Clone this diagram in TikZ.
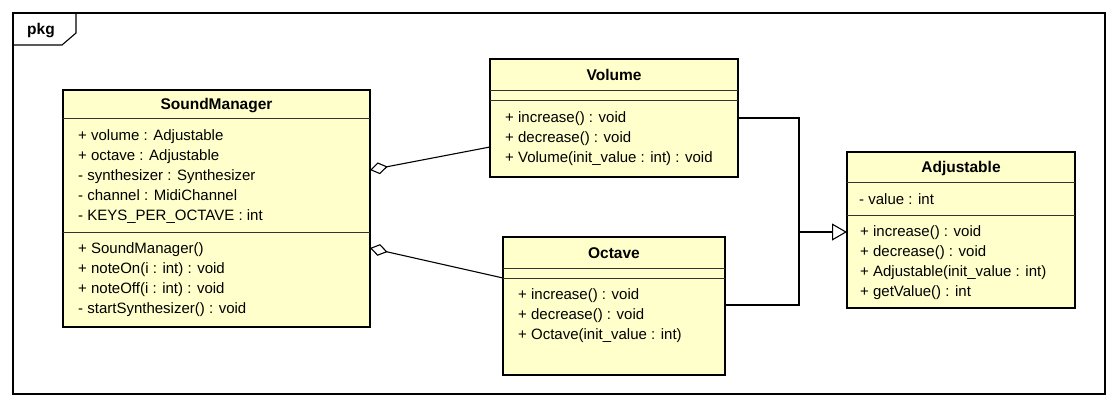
\documentclass[tikz,border=0pt]{standalone}
\usepackage{fontspec}
\setmainfont{Liberation Sans}
\usetikzlibrary{arrows.meta,calc}
\definecolor{clsfill}{HTML}{FFFFCC}
\begin{document}
\begin{tikzpicture}[x=1pt,y=-1pt,
  cls/.style={draw=black, line width=2.6pt, fill=clsfill, inner sep=0pt, outer sep=0pt, anchor=north west},
  sepline/.style={draw=black!80, line width=1pt},
  ttl/.style={font=\fontsize{15.5}{18}\selectfont\bfseries, anchor=base, inner sep=0pt},
  mem/.style={font=\fontsize{15}{20}\selectfont, anchor=base west, inner sep=0pt},
  conn/.style={draw=black, line width=1.1pt},
  agg/.style={conn, {Diamond[open,length=18pt,width=12pt,line width=1.1pt]}-},
  gen/.style={conn, -{Triangle[open,length=15pt,width=17pt,line width=1.1pt]}}]
\useasboundingbox (0,0) rectangle (1118,406);
% package frame
\node[draw=black, line width=1.1pt, minimum width=1092pt, minimum height=381pt, inner sep=0pt, outer sep=0pt, anchor=north west] (frame) at (13,13) {};
\draw[conn] ($(frame.north west)+(0,32)$) -- ++(49,0) -- ++(14,-12) -- ($(frame.north west)+(63,0)$);
\node[ttl] (pkgl) at (41,35) {pkg};
% class boxes
\node[cls, minimum width=307pt, minimum height=237pt] (sm) at (63,90) {};
\node[cls, minimum width=248pt, minimum height=118pt] (vol) at (490,59) {};
\node[cls, minimum width=222pt, minimum height=138pt] (oct) at (503,237) {};
\node[cls, minimum width=228pt, minimum height=156pt] (adj) at (847,152) {};
% separators
\draw[sepline] (63,119) -- (370,119);
\draw[sepline] (63,232) -- (370,232);
\draw[sepline] (490,91) -- (738,91);
\draw[sepline] (490,101) -- (738,101);
\draw[sepline] (503,268) -- (725,268);
\draw[sepline] (503,278) -- (725,278);
\draw[sepline] (847,183) -- (1075,183);
\draw[sepline] (847,215) -- (1075,215);
% titles
\node[ttl] (smT) at (216.5,110) {SoundManager};
\node[ttl] (volT) at (614,80.5) {Volume};
\node[ttl] (octT) at (614,258) {Octave};
\node[ttl] (adjT) at (961,173) {Adjustable};
% members
\foreach \t [count=\i from 0] in {+ volume : Adjustable, + octave : Adjustable, - synthesizer : Synthesizer, - channel : MidiChannel, - KEYS\_PER\_OCTAVE : int}
  \node[mem] (smA\i) at (78,{140.5+20*\i}) {\t};
\foreach \t [count=\i from 0] in {+ SoundManager(), + noteOn(i : int) : void, + noteOff(i : int) : void, - startSynthesizer() : void}
  \node[mem] (smM\i) at (78,{253.5+20*\i}) {\t};
\foreach \t [count=\i from 0] in {+ increase() : void, + decrease() : void, + Volume(init\_value : int) : void}
  \node[mem] (volM\i) at (505,{122.5+20*\i}) {\t};
\foreach \t [count=\i from 0] in {+ increase() : void, + decrease() : void, + Octave(init\_value : int)}
  \node[mem] (octM\i) at (518,{299.5+20*\i}) {\t};
\node[mem] (adjA0) at (859,204.5) {- value : int};
\foreach \t [count=\i from 0] in {+ increase() : void, + decrease() : void, + Adjustable(init\_value : int), + getValue() : int}
  \node[mem] (adjM\i) at (860,{236.5+20*\i}) {\t};
% connectors
\draw[agg] ($(sm.north east)+(0,80)$) -- ($(vol.north west)+(0,88)$);
\draw[agg] ($(sm.north east)+(0,158)$) -- ($(oct.north west)+(0,41)$);
\coordinate (jn) at (799,232);
\draw[conn] ($(vol.north east)+(0,59)$) -| (jn);
\draw[conn] ($(oct.north east)+(0,68)$) -| (jn);
\draw[gen] (jn) -- ($(adj.north west)+(0,80)$);
\end{tikzpicture}
\end{document}
